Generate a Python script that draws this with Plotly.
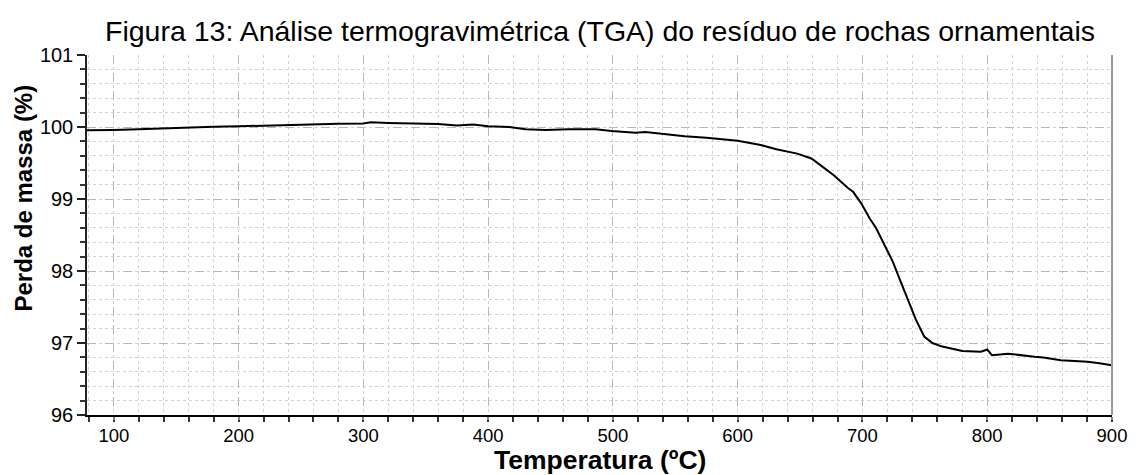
import plotly.graph_objects as go

# Temperature (ºC) and mass (%)
temperatura = [78.5, 90, 100, 120, 140, 160, 180, 200, 220, 240, 258, 280, 300, 306,
               320, 337, 360, 375, 388, 400, 417, 430, 446, 465, 486, 499, 518, 526,
               545, 557.5, 575, 590, 600, 618.5, 631, 647.7, 658, 661, 677, 688.6,
               692.5, 699, 705.8, 710.8, 717.7, 724.3, 730.7, 737.6, 742.9, 749.5,
               756, 764, 780, 795, 800, 803.7, 817, 838, 845, 859, 880.5, 890, 899, 900]
massa = [99.955, 99.955, 99.96, 99.97, 99.985, 100.0, 100.005, 100.01, 100.02, 100.03,
         100.04, 100.045, 100.05, 100.065, 100.055, 100.05, 100.04, 100.02, 100.035,
         100.01, 100.0, 99.97, 99.96, 99.97, 99.97, 99.945, 99.92, 99.93, 99.89, 99.87,
         99.85, 99.83, 99.81, 99.75, 99.69, 99.63, 99.57, 99.54, 99.33, 99.15, 99.10,
         98.94, 98.73, 98.60, 98.36, 98.13, 97.85, 97.55, 97.32, 97.09, 97.0, 96.95,
         96.89, 96.88, 96.91, 96.83, 96.85, 96.81, 96.80, 96.76, 96.74, 96.72, 96.69, 96.69]

x_ticks = [100, 200, 300, 400, 500, 600, 700, 800, 900]
y_ticks = [96, 97, 98, 99, 100, 101]

titulo = "Figura 13: Análise termogravimétrica (TGA) do resíduo de rochas ornamentais"
titulo_x = "Temperatura (ºC)"
titulo_y = "Perda de massa (%)"

FONT = "Liberation Sans, Arial, sans-serif"

fig = go.Figure()
fig.add_trace(go.Scatter(x=temperatura, y=massa, mode="lines",
                         line=dict(color="black", width=2), showlegend=False))

fig.update_layout(
    width=1139, height=475,
    margin=dict(l=87, r=18, t=55, b=60),
    paper_bgcolor="white", plot_bgcolor="white",
    font=dict(family=FONT, color="black"),
    title=dict(text=titulo, x=600/1139, xanchor="center", y=1-31/475, yanchor="middle",
               font=dict(size=28.5, color="black", family=FONT)),
)

fig.update_xaxes(
    range=[78.5, 900], tickvals=x_ticks, ticktext=[str(v) for v in x_ticks],
    tickfont=dict(size=18.5, color="black"),
    showline=True, linecolor="black", linewidth=1.5,
    ticks="outside", ticklen=3, tickcolor="#888888", tickwidth=1.5,
    showgrid=True, gridcolor="#b8b8b8", griddash="dash", gridwidth=1,
    minor=dict(dtick=20, tick0=0, showgrid=True, gridcolor="#d2d2d2", griddash="dot",
               ticks="outside", ticklen=5, tickcolor="#333333", gridwidth=1),
    zeroline=False,
)
fig.update_yaxes(
    range=[96, 101], tickvals=y_ticks, ticktext=[str(v) for v in y_ticks],
    tickfont=dict(size=20, color="black"),
    showline=True, linecolor="#222222", linewidth=1.5,
    ticks="outside", ticklen=8, tickcolor="#222222", tickwidth=1.5,
    showgrid=True, gridcolor="#b8b8b8", griddash="dash", gridwidth=1,
    minor=dict(dtick=0.2, tick0=96, showgrid=True, gridcolor="#d2d2d2", griddash="dot",
               ticks="outside", ticklen=5, tickcolor="#333333", gridwidth=1),
    zeroline=False,
)

# right border
fig.add_shape(type="line", xref="paper", yref="paper", x0=1, x1=1, y0=0, y1=1,
              line=dict(color="#999999", width=2))

fig.add_annotation(text="<b>" + titulo_x + "</b>", xref="paper", yref="paper",
                   x=0.5, y=(415-460)/360, xanchor="center", yanchor="middle",
                   showarrow=False, font=dict(size=26.5, color="black", family=FONT))
fig.add_annotation(text="<b>" + titulo_y + "</b>", xref="paper", yref="paper",
                   x=(22-87)/1034, y=(415-198)/360, xanchor="center", yanchor="middle",
                   textangle=-90, showarrow=False,
                   font=dict(size=24, color="black", family=FONT))

fig.write_html("out.html")
